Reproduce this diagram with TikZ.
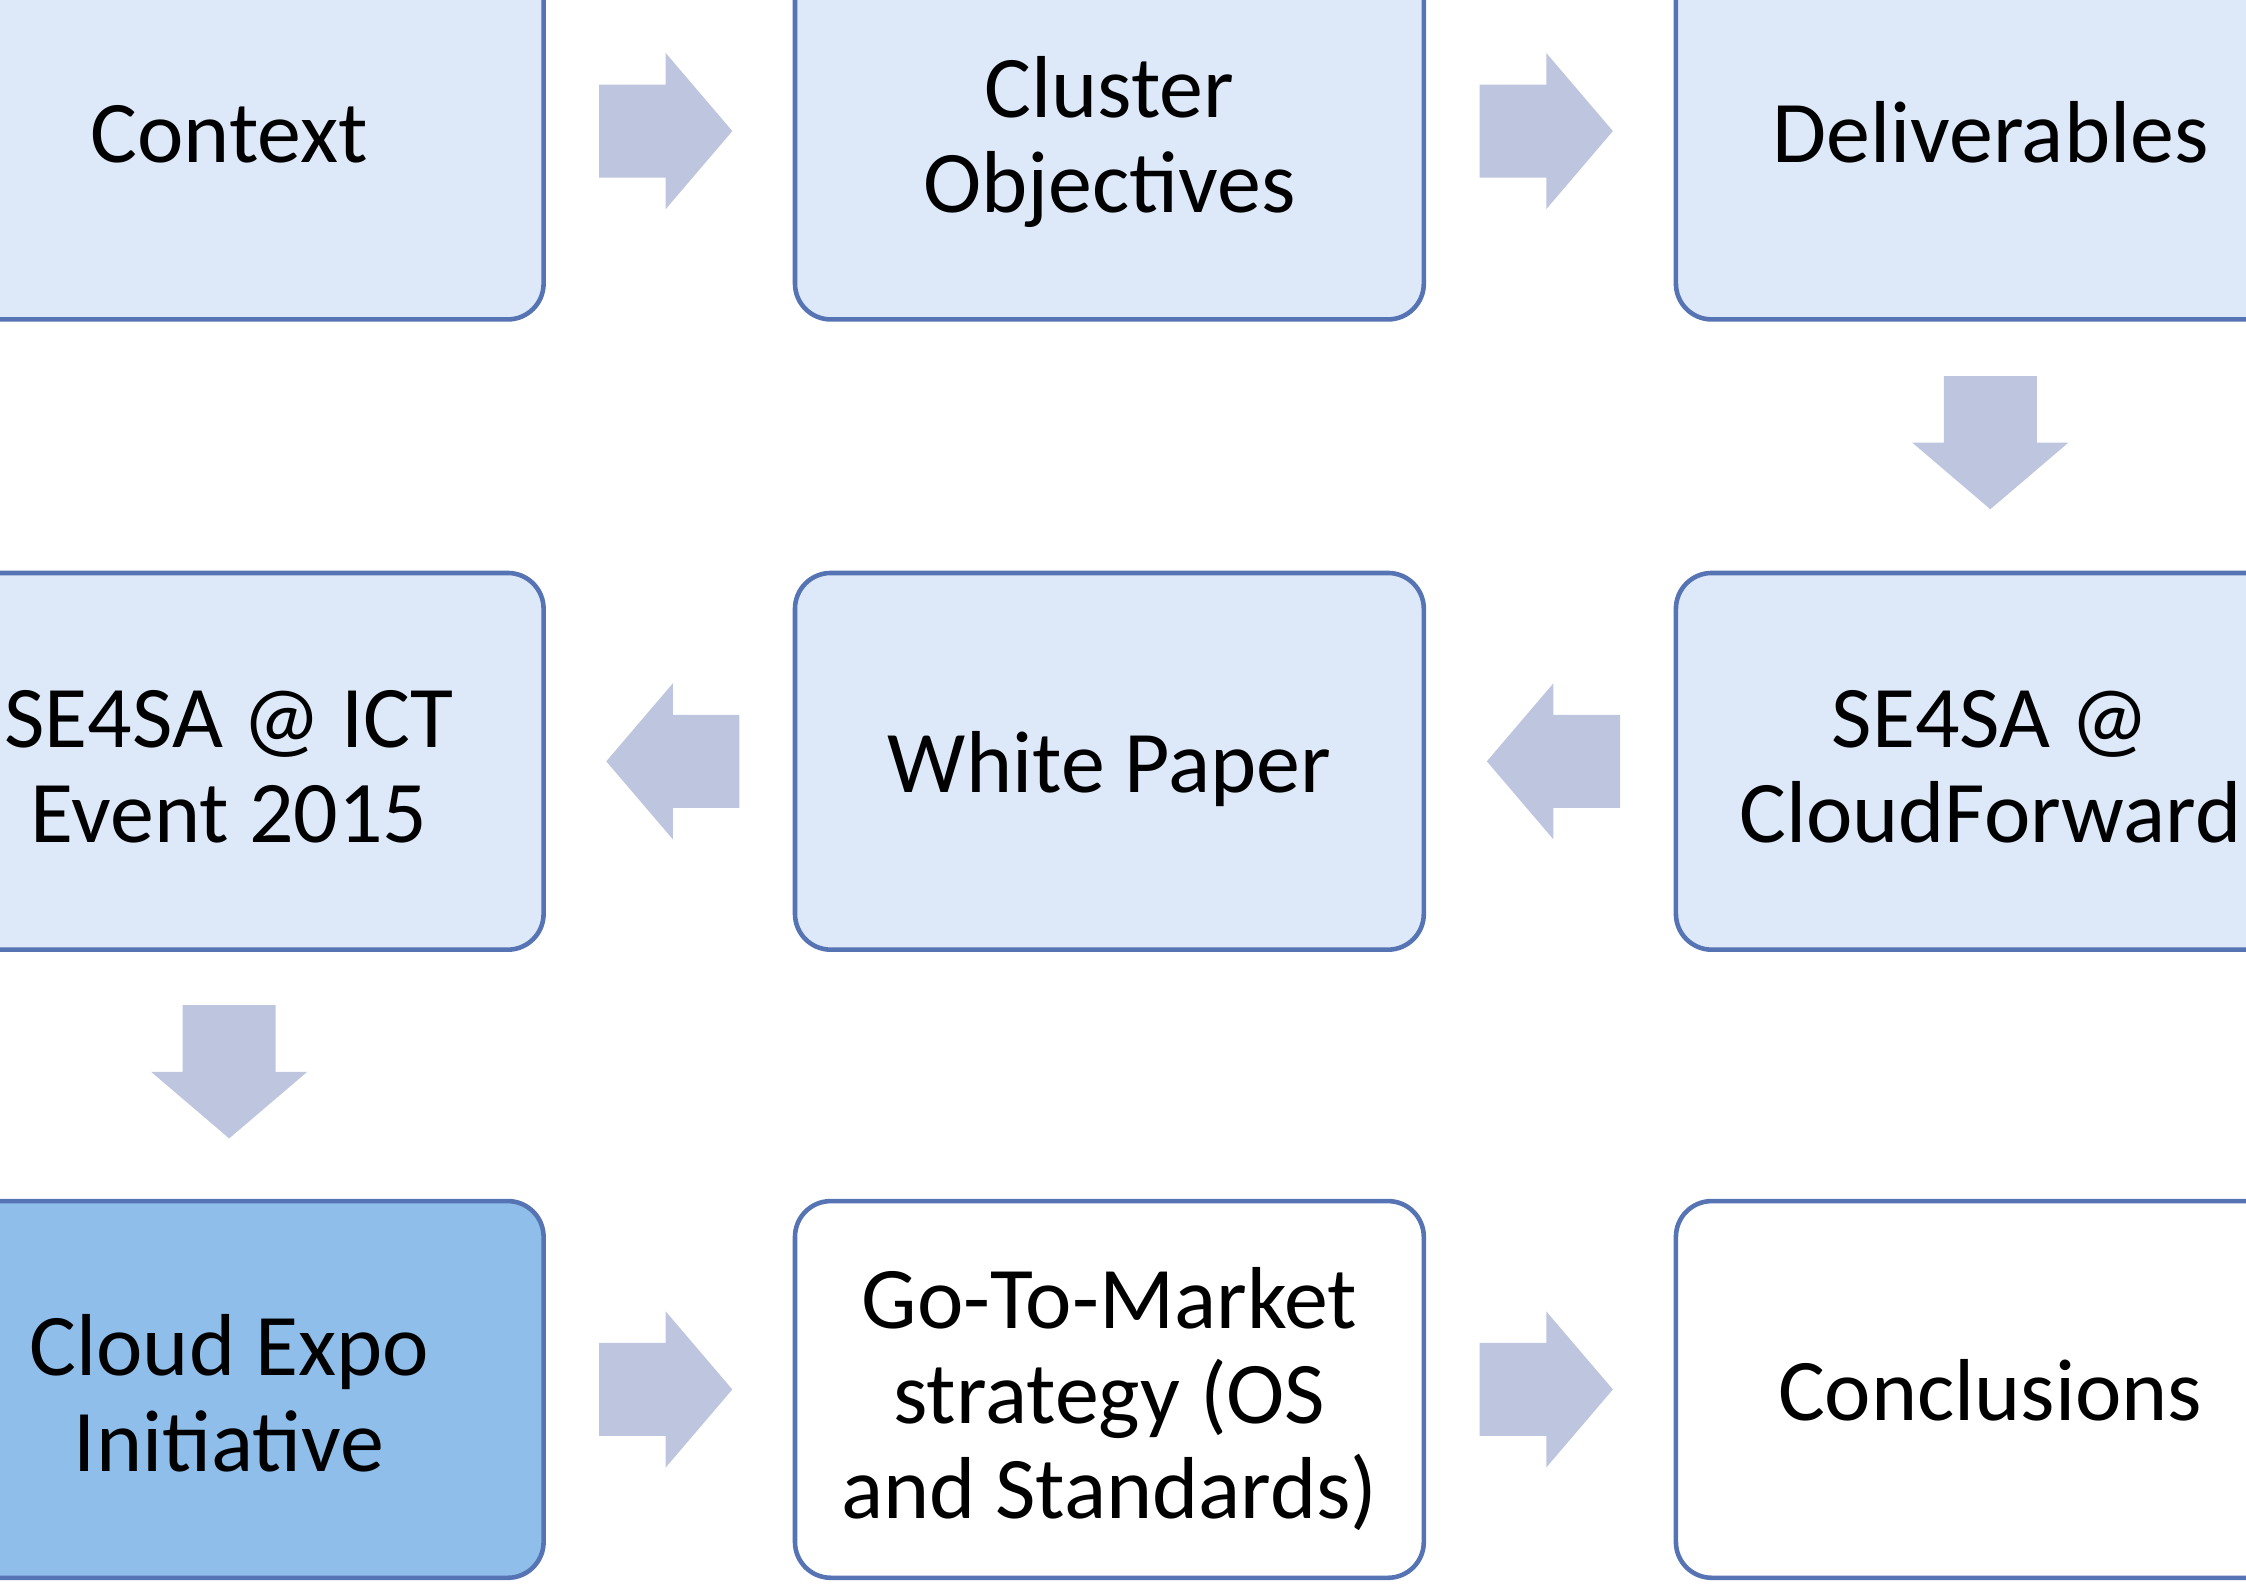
\documentclass[tikz,border=0pt]{standalone}
\usepackage{fontspec}
\setmainfont{Carlito}
\usetikzlibrary{calc}
\definecolor{bordc}{RGB}{86,116,180}
\definecolor{lightf}{RGB}{221,233,248}
\definecolor{darkf}{RGB}{142,190,233}
\definecolor{whitef}{RGB}{255,255,255}
\definecolor{arrf}{RGB}{190,197,222}
\tikzset{
  box/.style={draw=bordc, line width=1.6pt, rounded corners=12.5pt,
    minimum width=219.5pt, minimum height=131.5pt, inner sep=0pt,
    align=center, font=\fontsize{30.7}{33.2}\selectfont, fill=lightf,
    execute at begin node={\rule{0pt}{30pt}},
    execute at end node={\rule[-8pt]{0pt}{8pt}}},
  twoline/.style={execute at begin node={\rule{0pt}{65pt}}},
  threeline/.style={execute at begin node={\rule{0pt}{98pt}}},
  whitebox/.style={box, fill=whitef},
  darkbox/.style={box, fill=darkf},
  barrow/.pic={\fill[arrf] (-49,-32.5) -- (-2.5,-32.5) -- (-2.5,-54.5) -- (44,0)
      -- (-2.5,54.5) -- (-2.5,32.5) -- (-49,32.5) -- cycle;}
}
\begin{document}
\begin{tikzpicture}[x=0.5pt,y=-0.5pt]
\useasboundingbox (0,0) rectangle (1568,1108);
\clip (0,0) rectangle (1568,1108);
% row 1
\node[box] (ctx) at (160,91.5) {Context};
\node[box, twoline] (obj) at (774.5,91.5) {Cluster\\Objectives};
\node[box] (del) at (1389.5,91.5) {Deliverables};
% row 2
\node[box, twoline] (ict) at (160,531.5) {SE4SA @ ICT\\Event 2015};
\node[box] (wp) at (774.5,531.5) {White Paper};
\node[box, twoline] (cf) at (1389.5,531.5) {SE4SA @\\CloudForward};
% row 3
\node[darkbox, twoline] (expo) at (160,970) {Cloud Expo\\Initiative};
\node[whitebox, threeline] (gtm) at (774.5,970) {Go-To-Market\\strategy (OS\\and Standards)};
\node[whitebox] (conc) at (1389.5,970) {Conclusions};
% block arrows
\pic (a1) at ($(ctx.east)!0.5!(obj.west)$) {barrow};
\pic (a2) at ($(obj.east)!0.5!(del.west)$) {barrow};
\pic[rotate=-90] (a3) at ($(del.south)!0.5!(cf.north)$) {barrow};
\pic[rotate=180] (a4) at ($(cf.west)!0.5!(wp.east)$) {barrow};
\pic[rotate=180] (a5) at ($(wp.west)!0.5!(ict.east)$) {barrow};
\pic[rotate=-90] (a6) at ($(ict.south)!0.5!(expo.north)$) {barrow};
\pic (a7) at ($(expo.east)!0.5!(gtm.west)$) {barrow};
\pic (a8) at ($(gtm.east)!0.5!(conc.west)$) {barrow};
\end{tikzpicture}
\end{document}
